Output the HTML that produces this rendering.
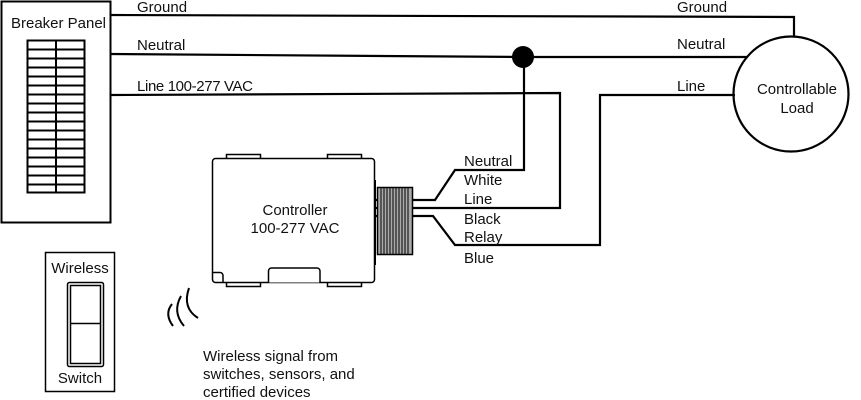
<!DOCTYPE html>
<html><head><style>
html,body{margin:0;padding:0;background:#fff;}
svg{display:block;}
text{font-family:"Liberation Sans",sans-serif;font-size:15px;fill:#111;}
</style></head><body>
<svg width="861" height="400" viewBox="0 0 861 400" xmlns="http://www.w3.org/2000/svg">
<g fill="none" stroke="#000" stroke-width="2">
<rect x="1.5" y="1.5" width="109" height="221"/>
<rect x="27.5" y="40.5" width="57" height="152"/>
<line x1="56" y1="40" x2="56" y2="193"/>
</g>
<g stroke="#000" stroke-width="2">
<line x1="27" y1="49.5" x2="85" y2="49.5"/><line x1="27" y1="58.5" x2="85" y2="58.5"/>
<line x1="27" y1="67.5" x2="85" y2="67.5"/><line x1="27" y1="76.5" x2="85" y2="76.5"/>
<line x1="27" y1="85.5" x2="85" y2="85.5"/><line x1="27" y1="94.5" x2="85" y2="94.5"/>
<line x1="27" y1="103.5" x2="85" y2="103.5"/><line x1="27" y1="112.5" x2="85" y2="112.5"/>
<line x1="27" y1="121.5" x2="85" y2="121.5"/><line x1="27" y1="130.5" x2="85" y2="130.5"/>
<line x1="27" y1="139.5" x2="85" y2="139.5"/><line x1="27" y1="148.5" x2="85" y2="148.5"/>
<line x1="27" y1="157.5" x2="85" y2="157.5"/><line x1="27" y1="166.5" x2="85" y2="166.5"/>
<line x1="27" y1="175.5" x2="85" y2="175.5"/><line x1="27" y1="184.5" x2="85" y2="184.5"/>
</g>
<text x="11" y="28" textLength="95">Breaker Panel</text>

<g fill="none" stroke="#000" stroke-width="2.2">
<polyline points="111,15 794,17 794,37"/>
<polyline points="111,54 523,57 748,57"/>
<polyline points="111,95 560,93 560,208 375,208"/>
<polyline points="524,57 524,170 455,170 435,200 375,200"/>
<polyline points="375,216 433,216 455,245 600,245 600,95 735,95"/>
<circle cx="791" cy="94" r="57.5"/>
</g>
<circle cx="523" cy="57" r="11" fill="#000"/>
<text x="137" y="12">Ground</text>
<text x="137" y="50">Neutral</text>
<text x="137" y="91" textLength="116">Line 100-277 VAC</text>
<text x="677" y="12">Ground</text>
<text x="677" y="49">Neutral</text>
<text x="677" y="91">Line</text>
<text x="797" y="94" text-anchor="middle">Controllable</text>
<text x="797" y="113" text-anchor="middle">Load</text>
<text x="464" y="166">Neutral</text>
<text x="464" y="185">White</text>
<text x="464" y="204">Line</text>
<text x="464" y="224">Black</text>
<text x="464" y="242">Relay</text>
<text x="464" y="263">Blue</text>

<g fill="#fff" stroke="#000" stroke-width="1.5">
<rect x="226.5" y="154.5" width="34" height="5"/>
<rect x="327.5" y="154.5" width="34" height="5"/>
<rect x="226.5" y="281.5" width="34" height="5"/>
<rect x="327.5" y="281.5" width="34" height="5"/>
<rect x="212.5" y="158.5" width="162" height="124" rx="3"/>
<path d="M268.5,282.5 V271 a3,3 0 0 1 3,-3 H317 a3,3 0 0 1 3,3 V282.5"/>
<path d="M212.5,272.5 H220 a3,3 0 0 1 3,3 V282.5"/>
<rect x="377.5" y="187.5" width="35" height="67" fill="#aaa"/>
</g>
<line x1="375" y1="180" x2="375" y2="265" stroke="#000" stroke-width="2"/>
<g stroke="#000" stroke-width="1">
<line x1="381" y1="188" x2="381" y2="254"/><line x1="384" y1="188" x2="384" y2="254"/>
<line x1="387" y1="188" x2="387" y2="254"/><line x1="390" y1="188" x2="390" y2="254"/>
<line x1="393" y1="188" x2="393" y2="254"/><line x1="396" y1="188" x2="396" y2="254"/>
<line x1="399" y1="188" x2="399" y2="254"/><line x1="402" y1="188" x2="402" y2="254"/>
<line x1="405" y1="188" x2="405" y2="254"/><line x1="408" y1="188" x2="408" y2="254"/>
</g>
<text x="295" y="215" text-anchor="middle">Controller</text>
<text x="295" y="233" text-anchor="middle">100-277 VAC</text>

<g fill="none" stroke="#000" stroke-width="1.5">
<rect x="45.5" y="252.5" width="69" height="139"/>
<rect x="67.5" y="282.5" width="36" height="84" rx="2"/>
<rect x="70.5" y="285.5" width="30" height="78"/>
<line x1="70" y1="323.5" x2="101" y2="323.5"/>
</g>
<text x="80" y="273" text-anchor="middle">Wireless</text>
<text x="80" y="383" text-anchor="middle">Switch</text>

<g fill="none" stroke="#000" stroke-width="2">
<path d="M172,304 Q164,314 173,326"/>
<path d="M181,296 Q172,312 184,326"/>
<path d="M189,288 Q182,308 198,318"/>
</g>
<text x="203" y="361">Wireless signal from</text>
<text x="203" y="379">switches, sensors, and</text>
<text x="203" y="397">certified devices</text>
</svg>
</body></html>
